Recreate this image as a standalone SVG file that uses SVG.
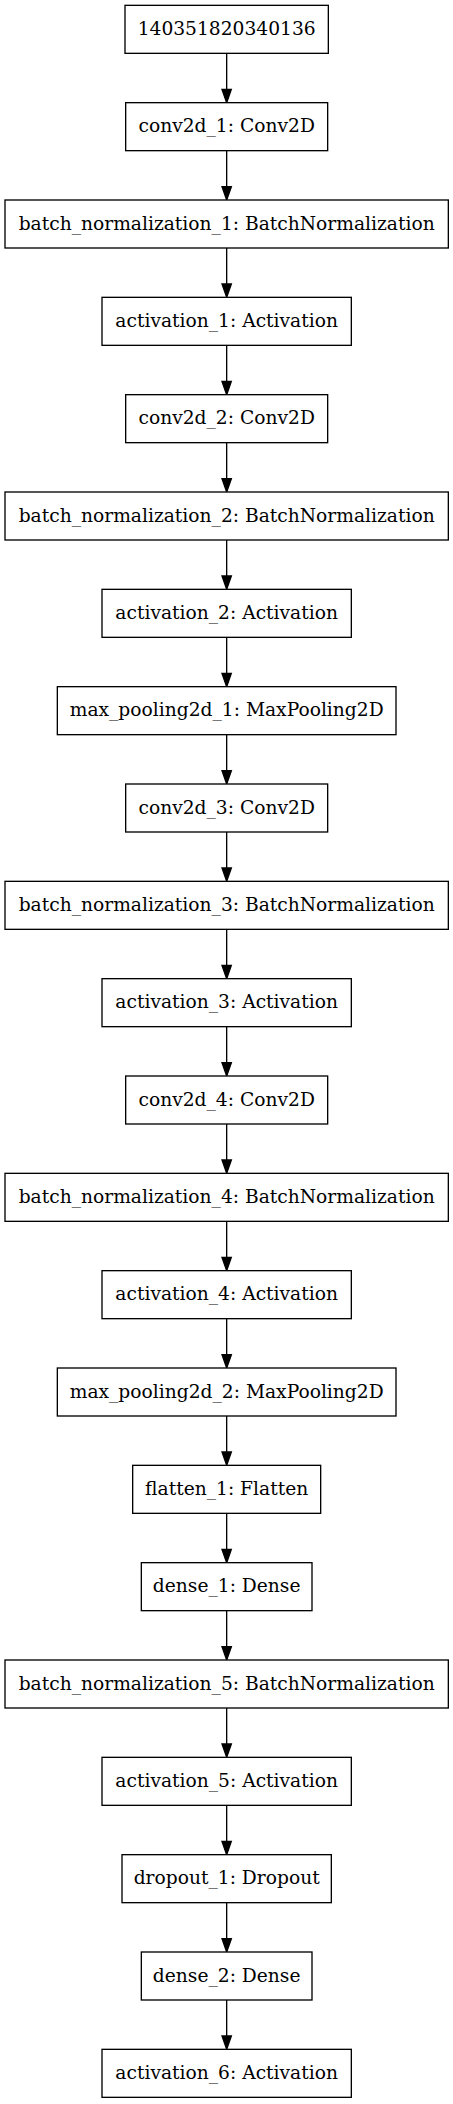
<svg xmlns="http://www.w3.org/2000/svg" width="453" height="2104" viewBox="0 0 453 2104">
<style>
.n rect{fill:#fff;stroke:#000;stroke-width:1.33}
.n text{font-family:"DejaVu Serif","Liberation Serif",serif;font-size:18.67px;fill:#000;text-anchor:middle}
.e line{stroke:#000;stroke-width:1.33}
</style>
<defs>
<marker id="ah" markerUnits="userSpaceOnUse" markerWidth="14" markerHeight="10" refX="0" refY="0" orient="auto" overflow="visible" viewBox="0 -5 14 10">
<path d="M0,-4.67 L13.33,0 L0,4.67 z" fill="#000" stroke="#000" stroke-width="1.33"/>
</marker>
</defs>
<rect width="453" height="2104" fill="#fff"/>
<g id="edges" class="e">
<line x1="226.67" y1="53.33" x2="226.67" y2="89.33" marker-end="url(#ah)"/>
<line x1="226.67" y1="150.67" x2="226.67" y2="186.67" marker-end="url(#ah)"/>
<line x1="226.67" y1="248" x2="226.67" y2="284" marker-end="url(#ah)"/>
<line x1="226.67" y1="345.33" x2="226.67" y2="381.33" marker-end="url(#ah)"/>
<line x1="226.67" y1="442.67" x2="226.67" y2="478.67" marker-end="url(#ah)"/>
<line x1="226.67" y1="540" x2="226.67" y2="576" marker-end="url(#ah)"/>
<line x1="226.67" y1="637.33" x2="226.67" y2="673.33" marker-end="url(#ah)"/>
<line x1="226.67" y1="734.67" x2="226.67" y2="770.67" marker-end="url(#ah)"/>
<line x1="226.67" y1="832" x2="226.67" y2="868" marker-end="url(#ah)"/>
<line x1="226.67" y1="929.33" x2="226.67" y2="965.33" marker-end="url(#ah)"/>
<line x1="226.67" y1="1026.67" x2="226.67" y2="1062.67" marker-end="url(#ah)"/>
<line x1="226.67" y1="1124" x2="226.67" y2="1160" marker-end="url(#ah)"/>
<line x1="226.67" y1="1221.33" x2="226.67" y2="1257.33" marker-end="url(#ah)"/>
<line x1="226.67" y1="1318.67" x2="226.67" y2="1354.67" marker-end="url(#ah)"/>
<line x1="226.67" y1="1416" x2="226.67" y2="1452" marker-end="url(#ah)"/>
<line x1="226.67" y1="1513.33" x2="226.67" y2="1549.33" marker-end="url(#ah)"/>
<line x1="226.67" y1="1610.67" x2="226.67" y2="1646.67" marker-end="url(#ah)"/>
<line x1="226.67" y1="1708" x2="226.67" y2="1744" marker-end="url(#ah)"/>
<line x1="226.67" y1="1805.33" x2="226.67" y2="1841.33" marker-end="url(#ah)"/>
<line x1="226.67" y1="1902.67" x2="226.67" y2="1938.67" marker-end="url(#ah)"/>
<line x1="226.67" y1="2000" x2="226.67" y2="2036" marker-end="url(#ah)"/>
</g>
<g id="n0" class="n"><rect x="125" y="5.33" width="203.33" height="48"/><text x="226.67" y="34.83">140351820340136</text></g>
<g id="n1" class="n"><rect x="125.67" y="102.67" width="202" height="48"/><text x="226.67" y="132.17">conv2d_1: Conv2D</text></g>
<g id="n2" class="n"><rect x="5" y="200" width="443.33" height="48"/><text x="226.67" y="229.5">batch_normalization_1: BatchNormalization</text></g>
<g id="n3" class="n"><rect x="102" y="297.33" width="249.33" height="48"/><text x="226.67" y="326.83">activation_1: Activation</text></g>
<g id="n4" class="n"><rect x="125.67" y="394.67" width="202" height="48"/><text x="226.67" y="424.17">conv2d_2: Conv2D</text></g>
<g id="n5" class="n"><rect x="5" y="492" width="443.33" height="48"/><text x="226.67" y="521.5">batch_normalization_2: BatchNormalization</text></g>
<g id="n6" class="n"><rect x="102" y="589.33" width="249.33" height="48"/><text x="226.67" y="618.83">activation_2: Activation</text></g>
<g id="n7" class="n"><rect x="57.33" y="686.67" width="338.67" height="48"/><text x="226.67" y="716.17">max_pooling2d_1: MaxPooling2D</text></g>
<g id="n8" class="n"><rect x="125.67" y="784" width="202" height="48"/><text x="226.67" y="813.5">conv2d_3: Conv2D</text></g>
<g id="n9" class="n"><rect x="5" y="881.33" width="443.33" height="48"/><text x="226.67" y="910.83">batch_normalization_3: BatchNormalization</text></g>
<g id="n10" class="n"><rect x="102" y="978.67" width="249.33" height="48"/><text x="226.67" y="1008.17">activation_3: Activation</text></g>
<g id="n11" class="n"><rect x="125.67" y="1076" width="202" height="48"/><text x="226.67" y="1105.5">conv2d_4: Conv2D</text></g>
<g id="n12" class="n"><rect x="5" y="1173.33" width="443.33" height="48"/><text x="226.67" y="1202.83">batch_normalization_4: BatchNormalization</text></g>
<g id="n13" class="n"><rect x="102" y="1270.67" width="249.33" height="48"/><text x="226.67" y="1300.17">activation_4: Activation</text></g>
<g id="n14" class="n"><rect x="57.33" y="1368" width="338.67" height="48"/><text x="226.67" y="1397.5">max_pooling2d_2: MaxPooling2D</text></g>
<g id="n15" class="n"><rect x="132.67" y="1465.33" width="188" height="48"/><text x="226.67" y="1494.83">flatten_1: Flatten</text></g>
<g id="n16" class="n"><rect x="141.33" y="1562.67" width="170.67" height="48"/><text x="226.67" y="1592.17">dense_1: Dense</text></g>
<g id="n17" class="n"><rect x="5" y="1660" width="443.33" height="48"/><text x="226.67" y="1689.5">batch_normalization_5: BatchNormalization</text></g>
<g id="n18" class="n"><rect x="102" y="1757.33" width="249.33" height="48"/><text x="226.67" y="1786.83">activation_5: Activation</text></g>
<g id="n19" class="n"><rect x="122" y="1854.67" width="209.33" height="48"/><text x="226.67" y="1884.17">dropout_1: Dropout</text></g>
<g id="n20" class="n"><rect x="141.33" y="1952" width="170.67" height="48"/><text x="226.67" y="1981.5">dense_2: Dense</text></g>
<g id="n21" class="n"><rect x="102" y="2049.33" width="249.33" height="48"/><text x="226.67" y="2078.83">activation_6: Activation</text></g>
</svg>
